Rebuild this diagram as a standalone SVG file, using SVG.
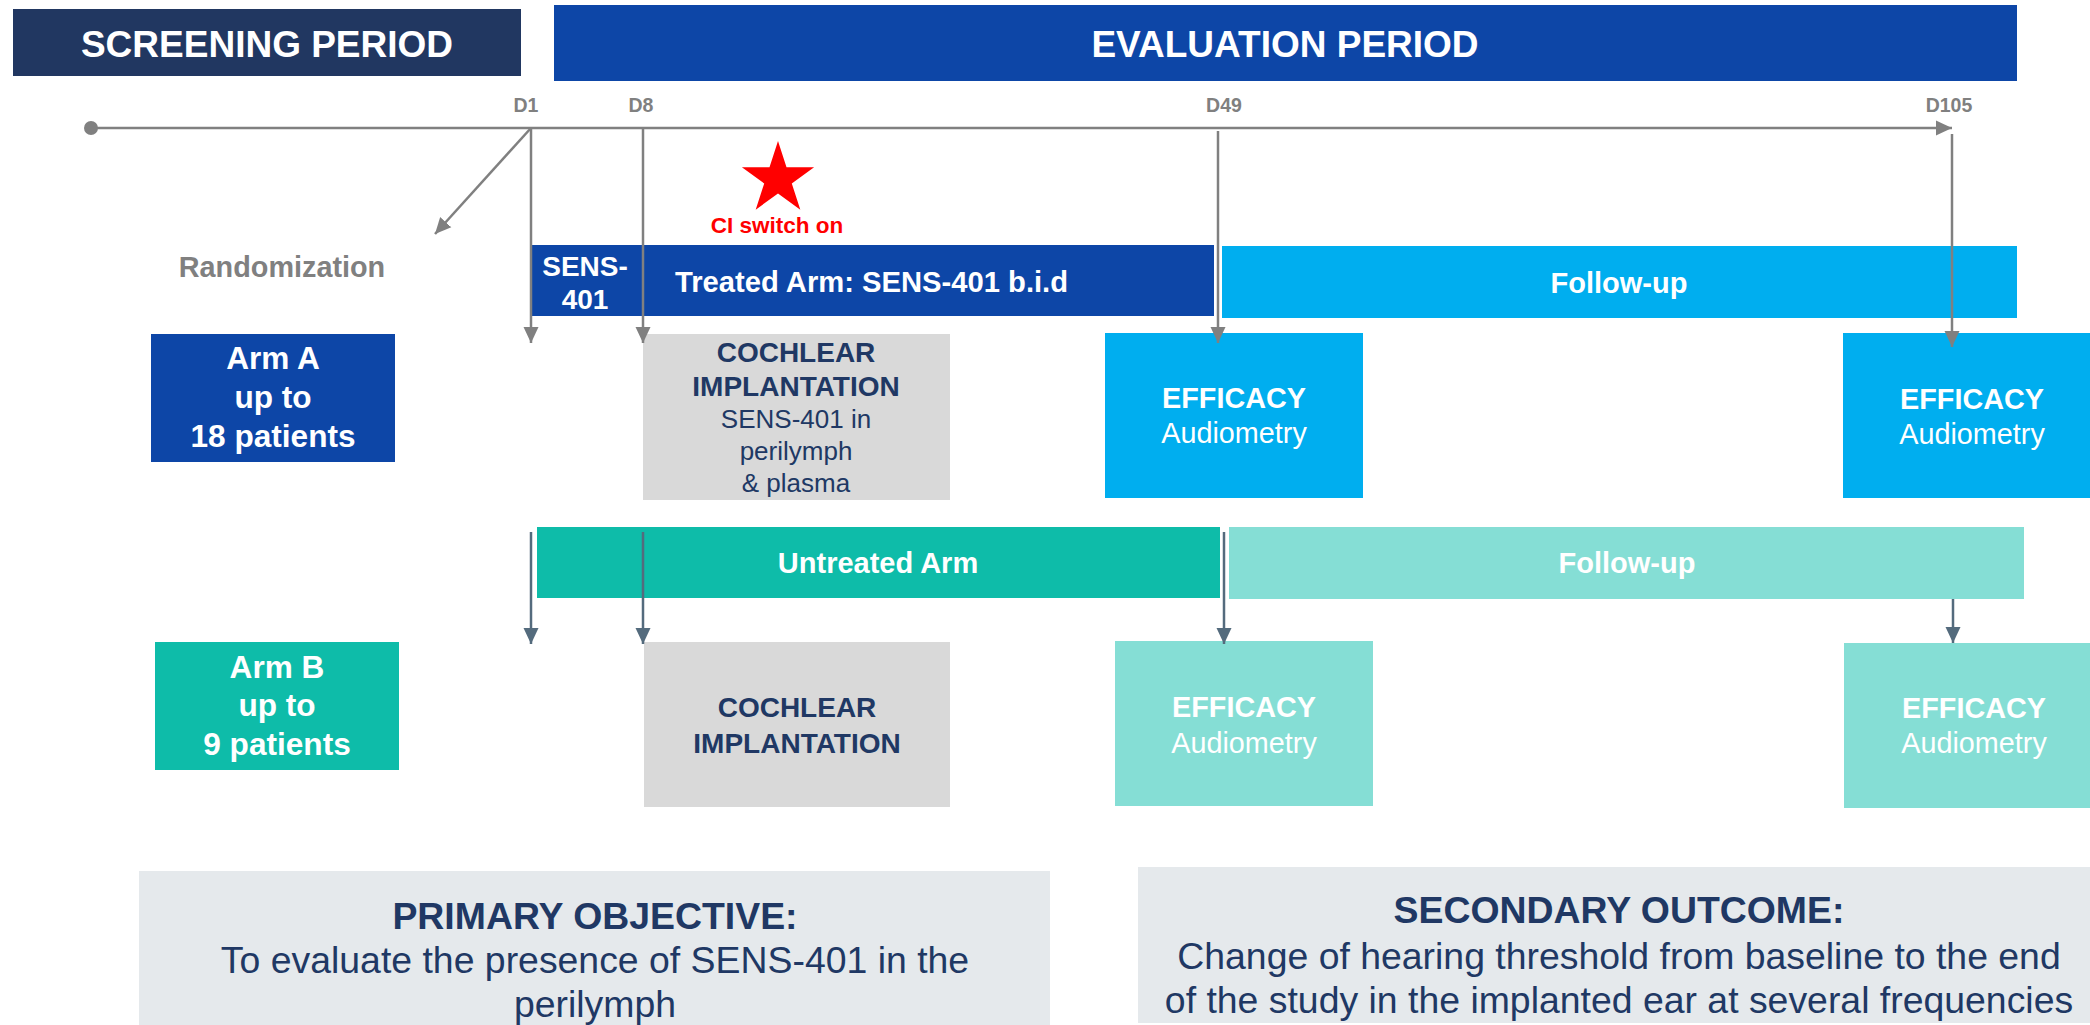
<svg xmlns="http://www.w3.org/2000/svg" width="2090" height="1025" viewBox="0 0 2090 1025">
<defs>
<style>
text{font-family:"Liberation Sans",Arial,sans-serif;text-anchor:middle}
.b{font-weight:bold}
.w{fill:#ffffff}
.nv{fill:#203864}
.g{fill:#808080}
.ca{stroke:#808080;stroke-width:2.5;fill:none}
.cb{stroke:#546b7d;stroke-width:2.5;fill:none}
</style>
<marker id="ag" markerUnits="userSpaceOnUse" markerWidth="16" markerHeight="16" refX="16" refY="7.5" orient="auto" viewBox="0 0 16 15"><path d="M0,0 L16,7.5 L0,15 z" fill="#808080"/></marker>
<marker id="as" markerUnits="userSpaceOnUse" markerWidth="16" markerHeight="16" refX="16" refY="7.5" orient="auto" viewBox="0 0 16 15"><path d="M0,0 L16,7.5 L0,15 z" fill="#546b7d"/></marker>
</defs>
<rect width="2090" height="1025" fill="#ffffff"/>

<g id="screening">
<rect x="13" y="9" width="508" height="67" fill="#213761"/>
<text x="267" y="57" class="b w" font-size="37">SCREENING PERIOD</text>
</g>
<g id="evaluation">
<rect x="554" y="5" width="1463" height="76" fill="#0d46a7"/>
<text x="1285" y="57" class="b w" font-size="37">EVALUATION PERIOD</text>
</g>

<g id="timeline-labels">
<circle cx="91" cy="128" r="7" fill="#808080"/>
<text x="526" y="112" class="b g" font-size="19.5">D1</text>
<text x="641" y="112" class="b g" font-size="19.5">D8</text>
<text x="1224" y="112" class="b g" font-size="19.5">D49</text>
<text x="1949" y="112" class="b g" font-size="19.5">D105</text>
</g>

<g id="randomization">
<text x="282" y="277" class="b g" font-size="28.8">Randomization</text>
</g>

<g id="ci-switch">
<polygon points="778,141 786.5,167.3 814.1,167.3 791.8,183.5 800.3,209.7 778,193.5 755.7,209.7 764.2,183.5 741.9,167.3 769.5,167.3" fill="#ff0000"/>
<text x="777" y="233" class="b" font-size="22.5" fill="#ff0000">CI switch on</text>
</g>

<g id="treated-arm">
<rect x="531" y="245" width="683" height="71" fill="#0d46a7"/>
<text x="585" y="276" class="b w" font-size="28">SENS-</text>
<text x="585" y="309" class="b w" font-size="28">401</text>
<text x="675" y="292" class="b w" font-size="29.2" style="text-anchor:start">Treated Arm: SENS-401 b.i.d</text>
</g>
<g id="followup-a">
<rect x="1222" y="246" width="795" height="72" fill="#00aeef"/>
<text x="1619" y="293" class="b w" font-size="29">Follow-up</text>
</g>

<g id="arm-a">
<rect x="151" y="334" width="244" height="128" fill="#0d46a7"/>
<text x="273" y="369" class="b w" font-size="31.6">Arm A</text>
<text x="273" y="408" class="b w" font-size="31.6">up to</text>
<text x="273" y="447" class="b w" font-size="31.6">18 patients</text>
</g>
<g id="cochlear-a">
<rect x="643" y="334" width="307" height="166" fill="#d9d9d9"/>
<text x="796" y="362" class="b nv" font-size="28">COCHLEAR</text>
<text x="796" y="396" class="b nv" font-size="28">IMPLANTATION</text>
<text x="796" y="428" class="nv" font-size="26">SENS-401 in</text>
<text x="796" y="460" class="nv" font-size="26">perilymph</text>
<text x="796" y="492" class="nv" font-size="26">&amp; plasma</text>
</g>
<g id="efficacy-a1">
<rect x="1105" y="333" width="258" height="165" fill="#00aeef"/>
<text x="1234" y="408" class="b w" font-size="28.8">EFFICACY</text>
<text x="1234" y="443" class="w" font-size="28.8">Audiometry</text>
</g>
<g id="efficacy-a2">
<rect x="1843" y="333" width="247" height="165" fill="#00aeef"/>
<text x="1972" y="409" class="b w" font-size="28.8">EFFICACY</text>
<text x="1972" y="444" class="w" font-size="28.8">Audiometry</text>
</g>

<g id="untreated-arm">
<rect x="537" y="527" width="683" height="71" fill="#0ebca9"/>
<text x="878" y="573" class="b w" font-size="29">Untreated Arm</text>
</g>
<g id="followup-b">
<rect x="1229" y="527" width="795" height="72" fill="#85ded5"/>
<text x="1627" y="573" class="b w" font-size="29">Follow-up</text>
</g>

<g id="arm-b">
<rect x="155" y="642" width="244" height="128" fill="#0ebca9"/>
<text x="277" y="678" class="b w" font-size="31.6">Arm B</text>
<text x="277" y="716" class="b w" font-size="31.6">up to</text>
<text x="277" y="755" class="b w" font-size="31.6">9 patients</text>
</g>
<g id="cochlear-b">
<rect x="644" y="642" width="306" height="165" fill="#d9d9d9"/>
<text x="797" y="717" class="b nv" font-size="28">COCHLEAR</text>
<text x="797" y="753" class="b nv" font-size="28">IMPLANTATION</text>
</g>
<g id="efficacy-b1">
<rect x="1115" y="641" width="258" height="165" fill="#85ded5"/>
<text x="1244" y="717" class="b w" font-size="28.8">EFFICACY</text>
<text x="1244" y="753" class="w" font-size="28.8">Audiometry</text>
</g>
<g id="efficacy-b2">
<rect x="1844" y="643" width="246" height="165" fill="#85ded5"/>
<text x="1974" y="718" class="b w" font-size="28.8">EFFICACY</text>
<text x="1974" y="753" class="w" font-size="28.8">Audiometry</text>
</g>

<g id="primary-objective">
<rect x="139" y="871" width="911" height="154" fill="#e5e9ec"/>
<text x="595" y="929" class="b nv" font-size="37.4">PRIMARY OBJECTIVE:</text>
<text x="595" y="973" class="nv" font-size="37.4">To evaluate the presence of SENS-401 in the</text>
<text x="595" y="1017" class="nv" font-size="37.4">perilymph</text>
</g>
<g id="secondary-outcome">
<rect x="1138" y="867" width="952" height="156" fill="#e5e9ec"/>
<text x="1619" y="923" class="b nv" font-size="37.4">SECONDARY OUTCOME:</text>
<text x="1619" y="969" class="nv" font-size="37.4">Change of hearing threshold from baseline to the end</text>
<text x="1619" y="1013" class="nv" font-size="37.4">of the study in the implanted ear at several frequencies</text>
</g>

<g id="connectors">
<line x1="91" y1="128" x2="1952" y2="128" class="ca" stroke-width="3" marker-end="url(#ag)"/>
<line x1="531" y1="128" x2="435" y2="234" class="ca" marker-end="url(#ag)"/>
<line x1="531" y1="128" x2="531" y2="343" class="ca" marker-end="url(#ag)"/>
<line x1="643" y1="128" x2="643" y2="343" class="ca" marker-end="url(#ag)"/>
<line x1="1218" y1="131" x2="1218" y2="343" class="ca" marker-end="url(#ag)"/>
<line x1="1952" y1="134" x2="1952" y2="347" class="ca" marker-end="url(#ag)"/>
<line x1="531" y1="532" x2="531" y2="644" class="cb" marker-end="url(#as)"/>
<line x1="643" y1="532" x2="643" y2="644" class="cb" marker-end="url(#as)"/>
<line x1="1224" y1="532" x2="1224" y2="644" class="cb" marker-end="url(#as)"/>
<line x1="1953" y1="599" x2="1953" y2="643" class="cb" marker-end="url(#as)"/>
</g>
</svg>
